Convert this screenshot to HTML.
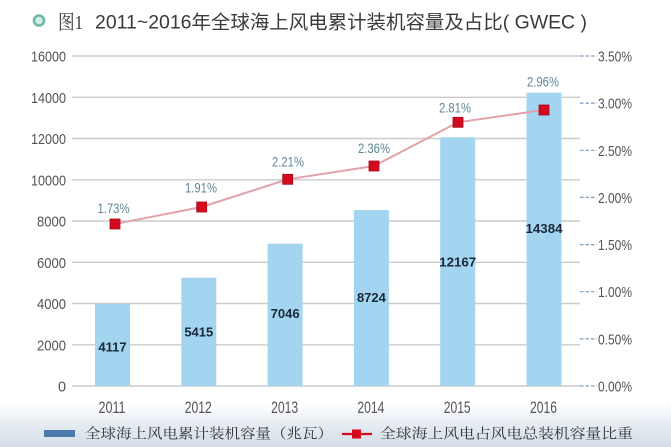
<!DOCTYPE html>
<html><head><meta charset="utf-8"><style>
html,body{margin:0;padding:0;background:#fff;}
svg{display:block;}
</style></head><body>
<svg width="671" height="447" viewBox="0 0 671 447" xmlns="http://www.w3.org/2000/svg">
<defs>
<linearGradient id="bg" x1="0" y1="0" x2="0" y2="1">
<stop offset="0" stop-color="#ffffff"/>
<stop offset="0.45" stop-color="#e6ecf2"/>
<stop offset="1" stop-color="#d3dde7"/>
</linearGradient>
</defs>
<rect x="0" y="0" width="671" height="447" fill="#ffffff"/>
<rect x="0" y="405" width="671" height="42" fill="url(#bg)"/>

<!-- title -->
<circle cx="39" cy="20.5" r="5" fill="#d6ece6" stroke="#72b8a8" stroke-width="2.6"/>
<text x="58" y="29" font-family="Liberation Serif, 'Noto Serif CJK SC', serif" font-size="20" fill="#3a3a3a" textLength="25" lengthAdjust="spacingAndGlyphs">图1</text>
<text x="95" y="28.5" font-family="'Liberation Sans','Noto Sans CJK SC',sans-serif" font-size="19" fill="#3a3a3a" textLength="492" lengthAdjust="spacingAndGlyphs">2011~2016年全球海上风电累计装机容量及占比( GWEC )</text>

<!-- gridlines -->
<g stroke="#cbcbcb" stroke-width="1.4">
<line x1="72" y1="56" x2="580" y2="56"/>
<line x1="72" y1="97.3" x2="580" y2="97.3"/>
<line x1="72" y1="138.5" x2="580" y2="138.5"/>
<line x1="72" y1="179.8" x2="580" y2="179.8"/>
<line x1="72" y1="221" x2="580" y2="221"/>
<line x1="72" y1="262.3" x2="580" y2="262.3"/>
<line x1="72" y1="303.5" x2="580" y2="303.5"/>
<line x1="72" y1="344.8" x2="580" y2="344.8"/>
<line x1="72" y1="386" x2="580" y2="386"/>
</g>
<!-- right dashed ticks -->
<g stroke="#7d9dc0" stroke-width="1.2" stroke-dasharray="3.5,2">
<line x1="580" y1="56" x2="597" y2="56"/>
<line x1="580" y1="103.1" x2="597" y2="103.1"/>
<line x1="580" y1="150.3" x2="597" y2="150.3"/>
<line x1="580" y1="197.4" x2="597" y2="197.4"/>
<line x1="580" y1="244.6" x2="597" y2="244.6"/>
<line x1="580" y1="291.7" x2="597" y2="291.7"/>
<line x1="580" y1="338.9" x2="597" y2="338.9"/>
<line x1="580" y1="386" x2="597" y2="386"/>
</g>

<!-- left labels -->
<g font-family="'Liberation Sans',sans-serif" font-size="15" fill="#555" text-anchor="end">
<text x="66" y="61.5" textLength="35" lengthAdjust="spacingAndGlyphs">16000</text>
<text x="66" y="102.8" textLength="35" lengthAdjust="spacingAndGlyphs">14000</text>
<text x="66" y="144" textLength="35" lengthAdjust="spacingAndGlyphs">12000</text>
<text x="66" y="185.3" textLength="35" lengthAdjust="spacingAndGlyphs">10000</text>
<text x="66" y="226.5" textLength="29" lengthAdjust="spacingAndGlyphs">8000</text>
<text x="66" y="267.8" textLength="29" lengthAdjust="spacingAndGlyphs">6000</text>
<text x="66" y="309" textLength="29" lengthAdjust="spacingAndGlyphs">4000</text>
<text x="66" y="350.3" textLength="29" lengthAdjust="spacingAndGlyphs">2000</text>
<text x="66" y="391.5" textLength="8" lengthAdjust="spacingAndGlyphs">0</text>
</g>

<!-- right labels -->
<g font-family="'Liberation Sans',sans-serif" font-size="15" fill="#555">
<text x="598" y="61.5" textLength="34" lengthAdjust="spacingAndGlyphs">3.50%</text>
<text x="598" y="108.6" textLength="34" lengthAdjust="spacingAndGlyphs">3.00%</text>
<text x="598" y="155.8" textLength="34" lengthAdjust="spacingAndGlyphs">2.50%</text>
<text x="598" y="202.9" textLength="34" lengthAdjust="spacingAndGlyphs">2.00%</text>
<text x="598" y="250.1" textLength="34" lengthAdjust="spacingAndGlyphs">1.50%</text>
<text x="598" y="297.2" textLength="34" lengthAdjust="spacingAndGlyphs">1.00%</text>
<text x="598" y="344.4" textLength="34" lengthAdjust="spacingAndGlyphs">0.50%</text>
<text x="598" y="391.5" textLength="34" lengthAdjust="spacingAndGlyphs">0.00%</text>
</g>

<!-- bars -->
<g fill="#a3d5f0">
<rect x="95" y="304" width="35" height="82"/>
<rect x="181.3" y="277.7" width="35" height="108.3"/>
<rect x="267.6" y="243.7" width="35" height="142.3"/>
<rect x="353.9" y="210" width="35" height="176"/>
<rect x="440.2" y="137.3" width="35" height="248.7"/>
<rect x="526.5" y="92.7" width="35" height="293.3"/>
</g>

<!-- bar values -->
<g font-family="'Liberation Sans',sans-serif" font-size="13" font-weight="bold" fill="#1b2838" text-anchor="middle">
<text x="112.5" y="351.5">4117</text>
<text x="198.8" y="336.5">5415</text>
<text x="285.1" y="318">7046</text>
<text x="371.4" y="302">8724</text>
<text x="457.7" y="266.5" textLength="37" lengthAdjust="spacingAndGlyphs">12167</text>
<text x="544" y="233" textLength="37" lengthAdjust="spacingAndGlyphs">14384</text>
</g>

<!-- line -->
<polyline points="115,224 201.7,207 287.7,179.3 374,166 458,122.3 544,110" fill="none" stroke="#e2a2aa" stroke-width="2"/>
<g fill="#d40a1e" stroke="#a5061a" stroke-width="0.8">
<rect x="110" y="219" width="10" height="10"/>
<rect x="196.7" y="202" width="10" height="10"/>
<rect x="282.7" y="174.3" width="10" height="10"/>
<rect x="369" y="161" width="10" height="10"/>
<rect x="453" y="117.3" width="10" height="10"/>
<rect x="539" y="105" width="10" height="10"/>
</g>

<!-- percent labels -->
<g font-family="'Liberation Sans',sans-serif" font-size="14" fill="#5b8794" text-anchor="middle">
<text x="113.5" y="213" textLength="32" lengthAdjust="spacingAndGlyphs">1.73%</text>
<text x="201" y="192.7" textLength="32" lengthAdjust="spacingAndGlyphs">1.91%</text>
<text x="288" y="166.7" textLength="32" lengthAdjust="spacingAndGlyphs">2.21%</text>
<text x="374" y="153" textLength="32" lengthAdjust="spacingAndGlyphs">2.36%</text>
<text x="455" y="112.7" textLength="32" lengthAdjust="spacingAndGlyphs">2.81%</text>
<text x="543" y="86.7" textLength="32" lengthAdjust="spacingAndGlyphs">2.96%</text>
</g>

<!-- year labels -->
<g font-family="'Liberation Sans',sans-serif" font-size="17" fill="#555" text-anchor="middle">
<text x="112" y="413" textLength="27" lengthAdjust="spacingAndGlyphs">2011</text>
<text x="198.3" y="413" textLength="27" lengthAdjust="spacingAndGlyphs">2012</text>
<text x="284.6" y="413" textLength="27" lengthAdjust="spacingAndGlyphs">2013</text>
<text x="370.9" y="413" textLength="27" lengthAdjust="spacingAndGlyphs">2014</text>
<text x="457.2" y="413" textLength="27" lengthAdjust="spacingAndGlyphs">2015</text>
<text x="543.5" y="413" textLength="27" lengthAdjust="spacingAndGlyphs">2016</text>
</g>

<!-- legend -->
<rect x="44" y="430" width="31" height="7" fill="#4b78ad"/>
<text x="85" y="438.5" font-family="'Liberation Serif','Noto Serif CJK SC',serif" font-size="14" fill="#333" textLength="248" lengthAdjust="spacingAndGlyphs">全球海上风电累计装机容量（兆瓦）</text>
<line x1="342" y1="434" x2="372" y2="434" stroke="#d40a1e" stroke-width="2.2"/>
<rect x="352" y="429.5" width="9" height="9" fill="#d40a1e"/>
<text x="380" y="438.5" font-family="'Liberation Serif','Noto Serif CJK SC',serif" font-size="14" fill="#333" textLength="253" lengthAdjust="spacingAndGlyphs">全球海上风电占风电总装机容量比重</text>
</svg>
</body></html>
